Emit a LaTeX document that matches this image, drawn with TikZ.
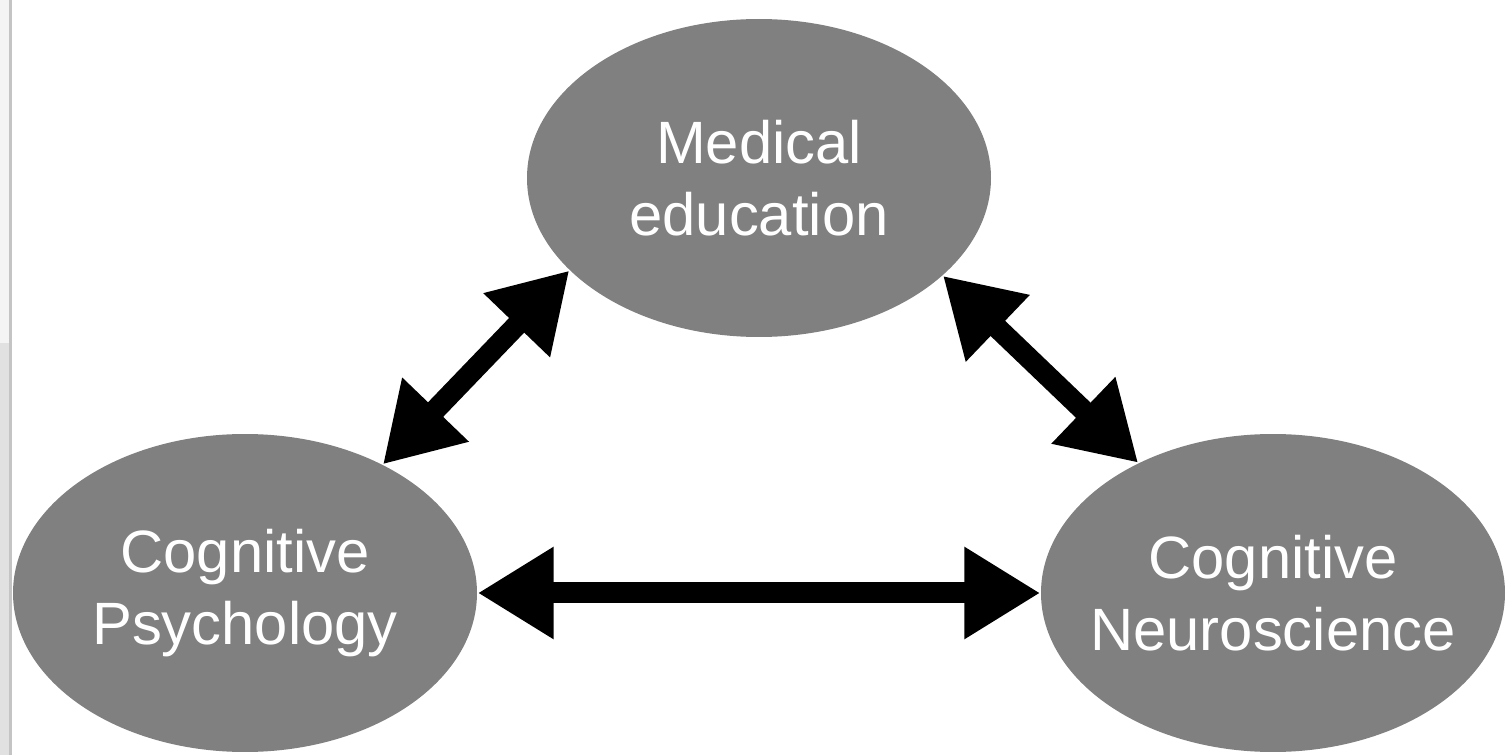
\documentclass[tikz,border=0pt]{standalone}
\usepackage{fontspec}
\setmainfont{Liberation Sans}
\usetikzlibrary{arrows.meta,shapes.geometric}
\definecolor{fieldgray}{HTML}{808080}
\definecolor{stripgray}{HTML}{F4F4F4}
\definecolor{stripdark}{HTML}{E1E1E1}
\definecolor{ruleline}{HTML}{C4C4C4}
\tikzset{
  field/.style={ellipse, fill=fieldgray, inner sep=0pt,
    minimum width=46.4mm, minimum height=31.8mm},
  fieldtext/.style={text=white, align=center,
    font=\fontsize{17}{20.5}\selectfont},
  link/.style={line width=2.1mm, black,
    {Triangle[length=7.6mm,width=8.7mm]}-{Triangle[length=7.6mm,width=8.7mm]}}
}
\begin{document}
\begin{tikzpicture}
% 1 unit = 0.1mm = one pixel of the 1510x755 reference
[x=0.1mm, y=0.1mm]
\useasboundingbox (0,0) rectangle (1510,755);
\fill[white] (0,0) rectangle (1510,755);
% light strip at the left edge
\fill[stripgray] (0,412) rectangle (9,755);
\fill[stripdark] (0,0) rectangle (9,412);
\fill[ruleline] (9,0) rectangle (12,755);
% the three fields
\node[field, label={[fieldtext]center:Medical\\education}] (med) at (759,577) {};
\node[field, label={[fieldtext]center:Cognitive\\Psychology}] (psy) at (245,162) {};
\node[field, label={[fieldtext]center:Cognitive\\Neuroscience}] (neu) at (1273,162) {};
% two-way links
\draw[link] (med.206.6) -- (psy.43.5);
\draw[link] (med.332.9) -- (neu.136.3);
\draw[link] (psy.0) -- (neu.180);
\end{tikzpicture}
\end{document}
